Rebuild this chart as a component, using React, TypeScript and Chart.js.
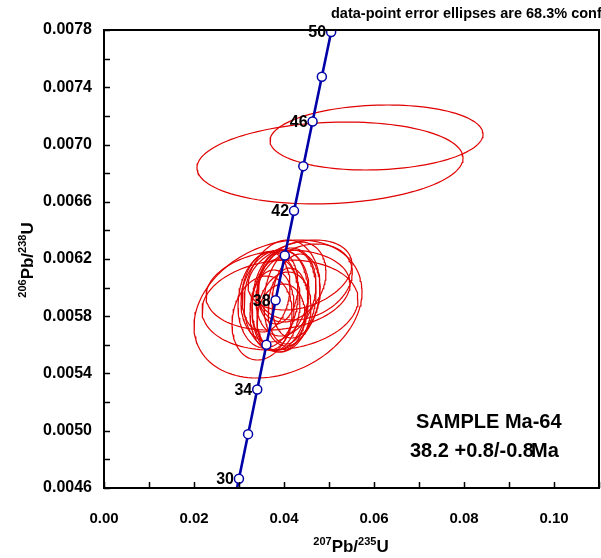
import { useEffect, useRef } from 'react';
import { Chart, registerables } from 'chart.js';

Chart.register(...registerables);

// Concordia curve (age in Ma, 207Pb/235U, 206Pb/238U)
const CURVE_AGE = [28, 30, 32, 34, 36, 38, 40, 42, 44, 46, 48, 50, 52];
const CURVE_X = [0.02796, 0.029986, 0.032017, 0.034052, 0.036091, 0.038133, 0.04018, 0.042231, 0.044286, 0.046345, 0.048408, 0.050475, 0.052546];
const CURVE_Y = [0.0043529, 0.0046646, 0.0049763, 0.0052882, 0.0056001, 0.0059122, 0.0062243, 0.0065365, 0.0068488, 0.0071613, 0.0074738, 0.0077864, 0.0080991];
const MARKER_AGE_MIN = 30;
const MARKER_AGE_MAX = 50;
const LABEL_AGES = [30, 34, 38, 42, 46, 50];

// Data-point error ellipses: centre, half-extent in x and y, correlation
const ELL_X = [0.06056, 0.05022, 0.038667, 0.039111, 0.038667, 0.039556, 0.039111, 0.038222, 0.040444, 0.037333, 0.041333, 0.038667, 0.04, 0.036444, 0.040889, 0.038, 0.039333, 0.042667, 0.036, 0.041778, 0.035111, 0.044667, 0.043556];
const ELL_Y = [0.007049, 0.006871, 0.0058507, 0.0058786, 0.0059834, 0.0059485, 0.0059135, 0.0058786, 0.0059694, 0.0058437, 0.0059275, 0.0059974, 0.0058297, 0.0059135, 0.0058716, 0.0059415, 0.0057878, 0.0059415, 0.0059694, 0.0060393, 0.0057878, 0.0060393, 0.0060882];
const ELL_SX = [0.02367, 0.02956, 0.018667, 0.017333, 0.016, 0.0084444, 0.0062222, 0.0053333, 0.0066667, 0.0048889, 0.0057778, 0.0044444, 0.006, 0.0066667, 0.0044444, 0.0075556, 0.0053333, 0.0053333, 0.0053333, 0.0075556, 0.0066667, 0.0105, 0.011556];
const ELL_SY = [0.000227, 0.000286, 0.0004821, 0.0003144, 0.00027948, 0.00038428, 0.00034935, 0.0003214, 0.00030742, 0.00027948, 0.00033537, 0.00025153, 0.00027948, 0.00033537, 0.0002655, 0.0003214, 0.00023755, 0.00029345, 0.00027948, 0.00027948, 0.00029345, 0.0002655, 0.00024454];
const ELL_RHO = [0.1, 0.12, 0.25, 0.12, 0.15, 0.15, 0.12, 0.1, 0.18, 0.08, 0.15, 0.1, 0.15, 0.12, 0.1, 0.15, 0.1, 0.18, 0.15, 0.25, 0.15, 0.25, 0.3];

const X_MIN = 0;
const X_MAX = 0.11;
const X_STEP = 0.01;
const Y_MIN = 0.0046;
const Y_MAX = 0.0078;
const Y_STEP = 0.0002;

const NOTE_TEXT = 'data-point error ellipses are 68.3% conf';
const SAMPLE_TEXT = 'SAMPLE Ma-64';
const AGE_TEXT = '38.2 +0.8/-0.8';
const AGE_UNIT = 'Ma';

const FONT = "'Liberation Sans', Arial, Helvetica, sans-serif";
const BLUE = '#0000a8';
const RED = '#e00000';

function ellipsePoints(i: number) {
  const pts: { x: number; y: number }[] = [];
  const n = 120;
  const r = ELL_RHO[i];
  const q = Math.sqrt(1 - r * r);
  for (let k = 0; k <= n; k++) {
    const t = (k / n) * Math.PI * 2;
    pts.push({
      x: ELL_X[i] + ELL_SX[i] * Math.cos(t),
      y: ELL_Y[i] + ELL_SY[i] * (r * Math.cos(t) + q * Math.sin(t)),
    });
  }
  return pts;
}

function drawSupText(
  ctx: CanvasRenderingContext2D,
  parts: { t: string; sup: boolean }[],
  cx: number,
  baseY: number,
  big: number,
  small: number
) {
  const fBig = `bold ${big}px ${FONT}`;
  const fSmall = `bold ${small}px ${FONT}`;
  let w = 0;
  for (const p of parts) {
    ctx.font = p.sup ? fSmall : fBig;
    w += ctx.measureText(p.t).width;
  }
  let x = cx - w / 2;
  ctx.textAlign = 'left';
  ctx.textBaseline = 'alphabetic';
  for (const p of parts) {
    ctx.font = p.sup ? fSmall : fBig;
    ctx.fillText(p.t, x, p.sup ? baseY - big * 0.42 : baseY);
    x += ctx.measureText(p.t).width;
  }
}

const decorPlugin = {
  id: 'decor',
  afterDatasetsDraw(chart: any) {
    const ctx: CanvasRenderingContext2D = chart.ctx;
    const xs = chart.scales.x;
    const ys = chart.scales.y;
    ctx.save();
    ctx.fillStyle = '#000';
    ctx.font = `bold 16px ${FONT}`;
    ctx.textAlign = 'right';
    ctx.textBaseline = 'middle';
    LABEL_AGES.forEach((age) => {
      const idx = CURVE_AGE.indexOf(age);
      const px = xs.getPixelForValue(CURVE_X[idx]);
      const py = ys.getPixelForValue(CURVE_Y[idx]);
      ctx.fillText(String(age), px - 5, py + 1);
    });
    ctx.restore();
  },
  afterDraw(chart: any) {
    const ctx: CanvasRenderingContext2D = chart.ctx;
    const a = chart.chartArea;
    const xs = chart.scales.x;
    const ys = chart.scales.y;
    ctx.save();
    // inward tick marks
    ctx.strokeStyle = '#000';
    ctx.lineWidth = 1.5;
    ctx.beginPath();
    xs.ticks.forEach((t: any) => {
      const px = Math.round(xs.getPixelForValue(t.value)) + 0.5;
      ctx.moveTo(px, a.bottom);
      ctx.lineTo(px, a.bottom - 6);
    });
    ys.ticks.forEach((t: any) => {
      const py = Math.round(ys.getPixelForValue(t.value)) + 0.5;
      ctx.moveTo(a.left, py);
      ctx.lineTo(a.left + 6, py);
    });
    ctx.stroke();
    // frame
    ctx.lineWidth = 2;
    ctx.strokeRect(a.left, a.top, a.right - a.left, a.bottom - a.top);

    ctx.fillStyle = '#000';
    // x-axis title
    drawSupText(
      ctx,
      [
        { t: '207', sup: true },
        { t: 'Pb/', sup: false },
        { t: '235', sup: true },
        { t: 'U', sup: false },
      ],
      351,
      552,
      17,
      11
    );
    // y-axis title
    ctx.save();
    ctx.translate(33, 260);
    ctx.rotate(-Math.PI / 2);
    drawSupText(
      ctx,
      [
        { t: '206', sup: true },
        { t: 'Pb/', sup: false },
        { t: '238', sup: true },
        { t: 'U', sup: false },
      ],
      0,
      0,
      17,
      11
    );
    ctx.restore();

    // note on top
    ctx.font = `bold 14.5px ${FONT}`;
    ctx.textAlign = 'left';
    ctx.textBaseline = 'alphabetic';
    ctx.fillText(NOTE_TEXT, 331, 18);

    // sample box text
    ctx.font = `bold 20px ${FONT}`;
    ctx.fillText(SAMPLE_TEXT, 416, 428);
    ctx.fillText(AGE_TEXT, 410, 457);
    ctx.fillText(AGE_UNIT, 531, 457);
    ctx.restore();
  },
};

export default function App() {
  const ref = useRef<HTMLCanvasElement | null>(null);

  useEffect(() => {
    if (!ref.current) return;
    const markers: { x: number; y: number }[] = [];
    const curve: { x: number; y: number }[] = [];
    CURVE_AGE.forEach((age, i) => {
      curve.push({ x: CURVE_X[i], y: CURVE_Y[i] });
      if (age >= MARKER_AGE_MIN && age <= MARKER_AGE_MAX) markers.push({ x: CURVE_X[i], y: CURVE_Y[i] });
    });
    const datasets: any[] = [
      {
        data: markers,
        showLine: false,
        pointRadius: 4.5,
        pointBackgroundColor: '#ffffff',
        pointBorderColor: BLUE,
        pointBorderWidth: 1.5,
      },
      {
        data: curve,
        showLine: true,
        borderColor: BLUE,
        borderWidth: 2.6,
        pointRadius: 0,
        tension: 0,
        clip: 0,
      },
    ];
    ELL_X.forEach((_, i) => {
      datasets.push({
        data: ellipsePoints(i),
        showLine: true,
        borderColor: RED,
        borderWidth: 1.2,
        pointRadius: 0,
        tension: 0,
      });
    });
    const chart = new Chart(ref.current, {
      type: 'scatter',
      data: { datasets },
      options: {
        animation: false,
        responsive: false,
        devicePixelRatio: 1,
        events: [],
        layout: { autoPadding: false, padding: { top: 30, right: 2, left: 0, bottom: 0 } },
        plugins: { legend: { display: false }, tooltip: { enabled: false } },
        scales: {
          x: {
            type: 'linear',
            min: X_MIN,
            max: X_MAX,
            grid: { display: false, drawTicks: false },
            border: { display: false },
            ticks: {
              stepSize: X_STEP,
              autoSkip: false,
              maxRotation: 0,
              padding: 22,
              color: '#000',
              font: { family: FONT, size: 15, weight: 'bold' as const },
              callback: (v: any) => {
                const k = Math.round((Number(v) - X_MIN) / X_STEP);
                return k % 2 === 0 ? Number(v).toFixed(2) : '';
              },
            },
            afterFit: (s: any) => {
              s.height = 70;
              s.paddingLeft = 0;
              s.paddingRight = 0;
            },
          },
          y: {
            type: 'linear',
            min: Y_MIN,
            max: Y_MAX,
            grid: { display: false, drawTicks: false },
            border: { display: false },
            ticks: {
              stepSize: Y_STEP,
              autoSkip: false,
              padding: 12,
              color: '#000',
              font: { family: FONT, size: 16, weight: 'bold' as const },
              callback: (v: any) => {
                const k = Math.round((Number(v) - Y_MIN) / Y_STEP);
                return k % 2 === 0 ? Number(v).toFixed(4) : '';
              },
            },
            afterFit: (s: any) => {
              s.width = 104;
              s.paddingTop = 0;
              s.paddingBottom = 0;
            },
          },
        },
      },
      plugins: [decorPlugin],
    });
    return () => chart.destroy();
  }, []);

  return (
    <div style={{ position: 'fixed', left: 0, top: 0, width: 601, height: 558, background: '#fff' }}>
      <canvas ref={ref} width={601} height={558} style={{ display: 'block', width: 601, height: 558 }} />
    </div>
  );
}
